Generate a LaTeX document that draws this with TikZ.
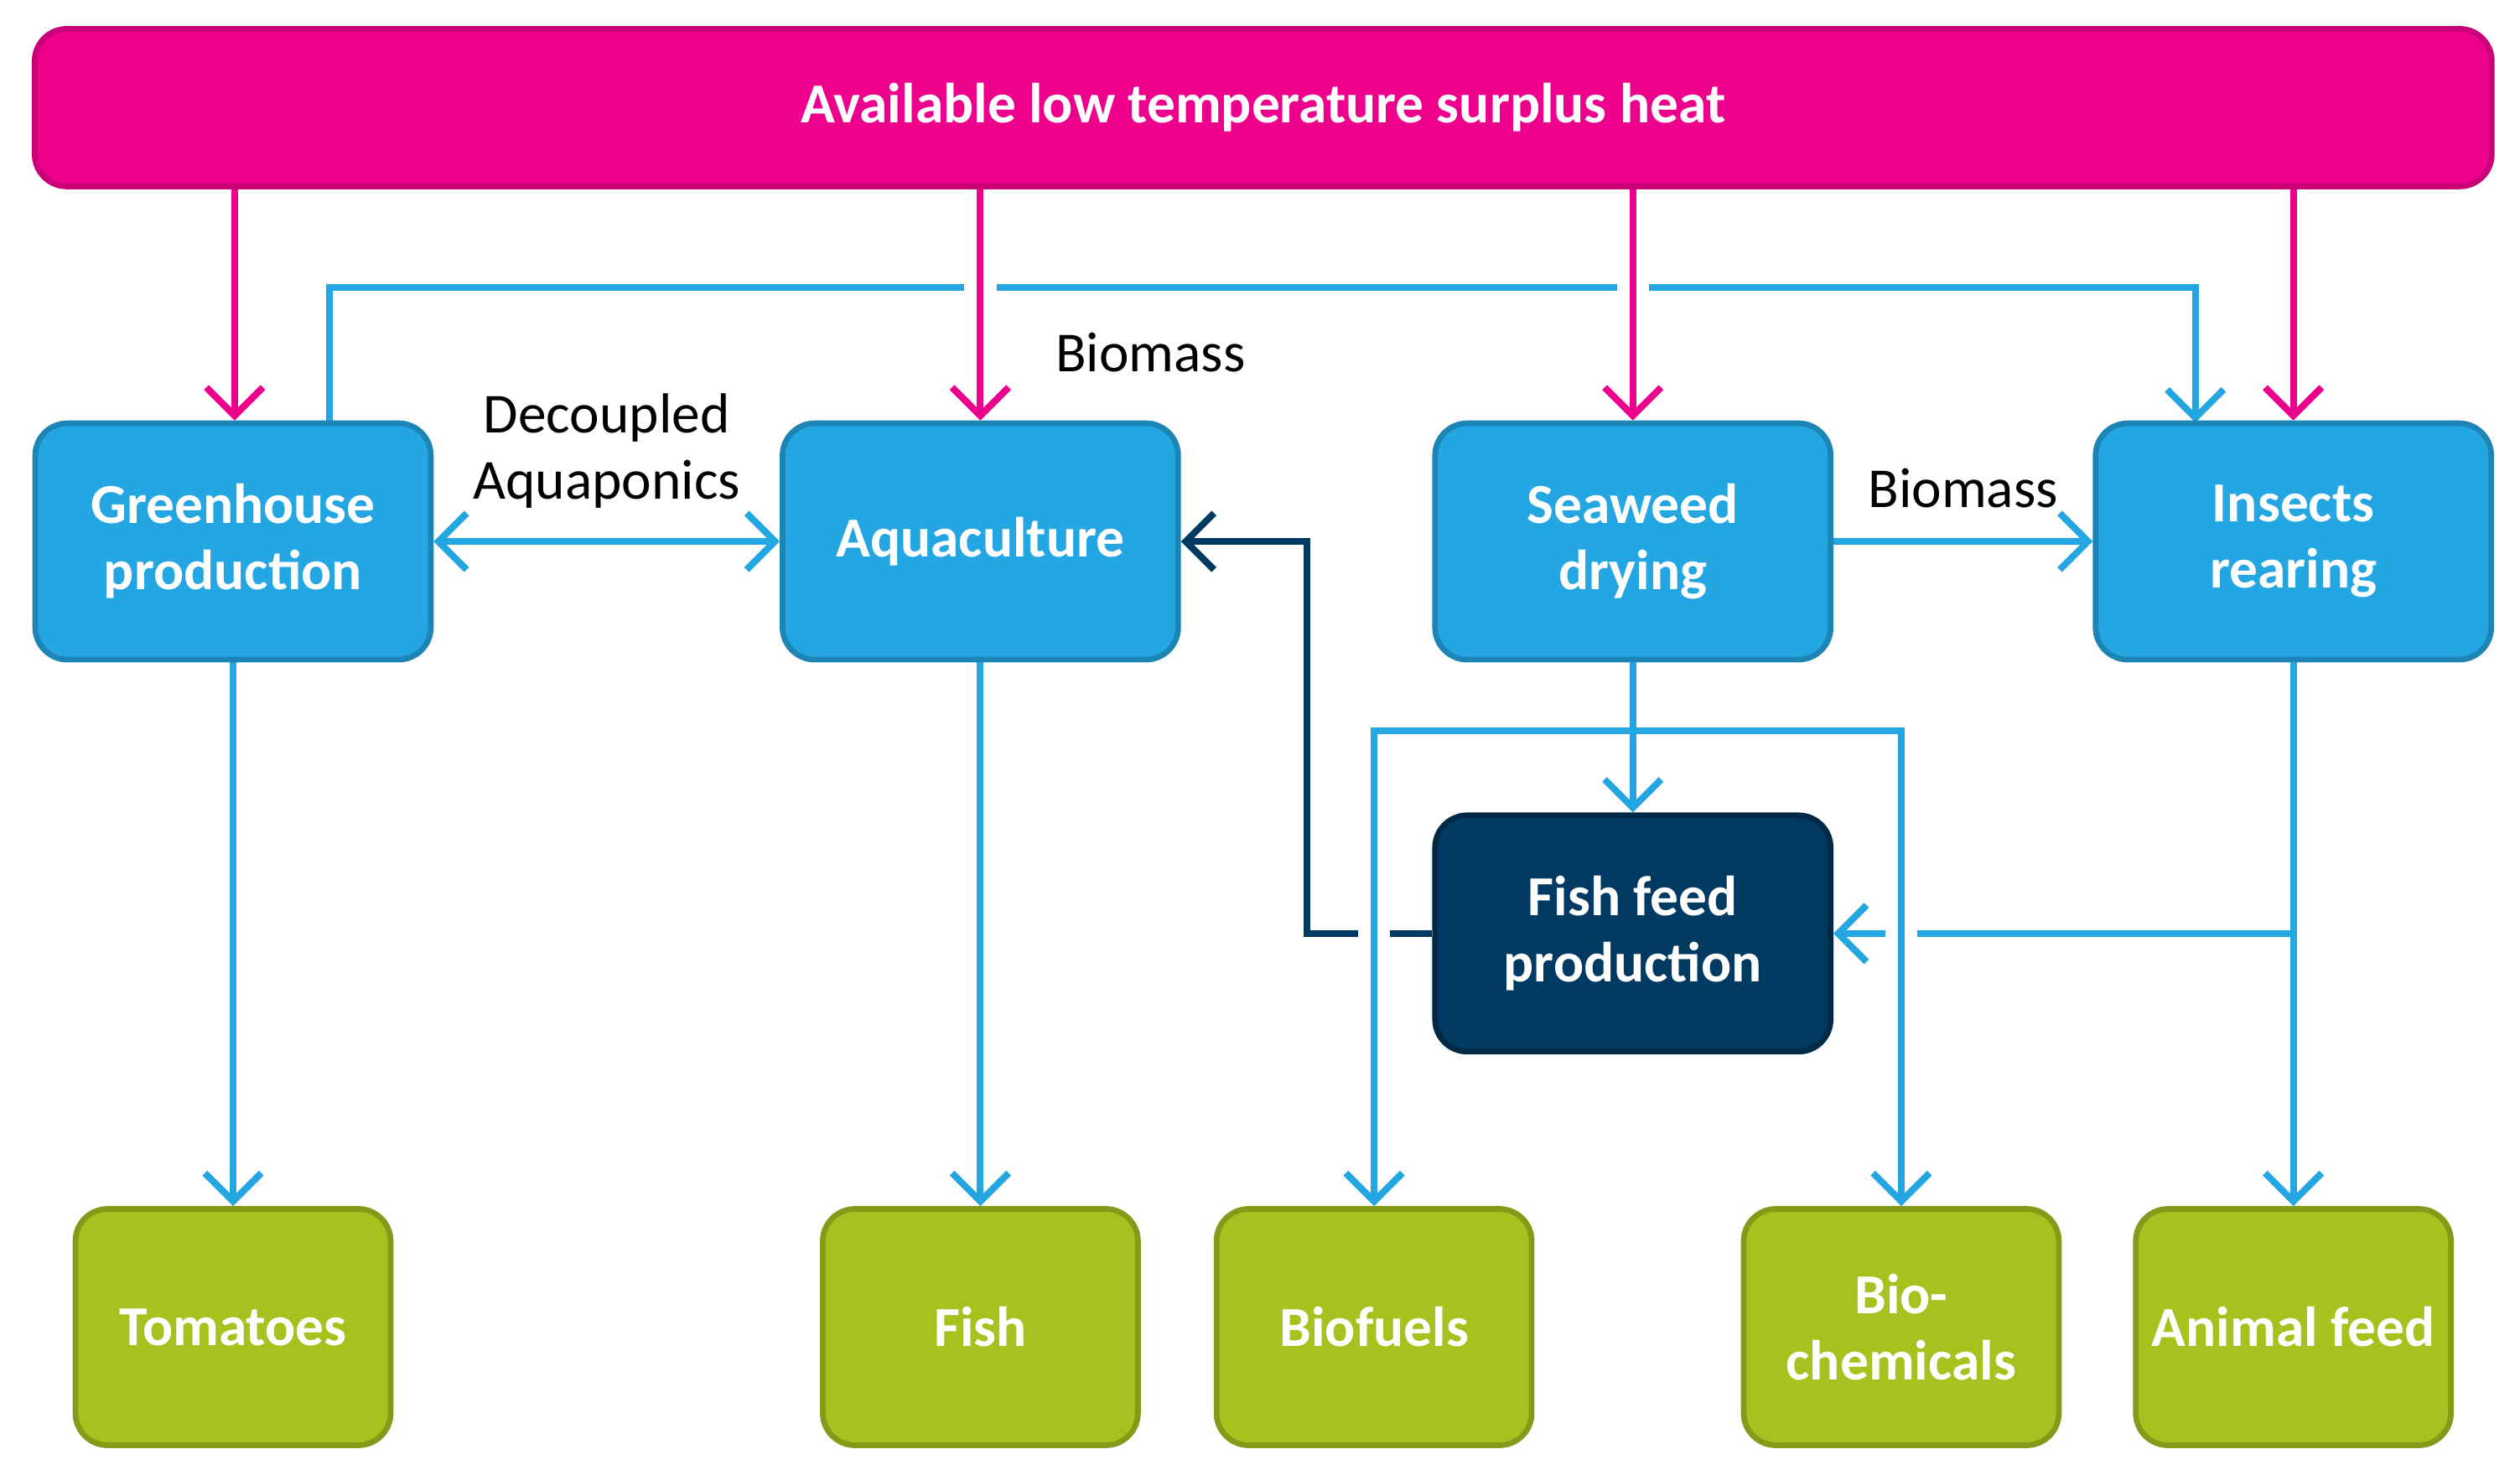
\documentclass[tikz,border=0pt]{standalone}
\usepackage{fontspec}
\setmainfont{Carlito}
\usetikzlibrary{arrows.meta}
\definecolor{heatpink}{HTML}{EC008C}
\definecolor{procblue}{HTML}{24A6E2}
\definecolor{navy}{HTML}{003A63}
\definecolor{leaf}{HTML}{A5C21F}
\pgfdeclarelayer{background}
\pgfsetlayers{background,main}
\tikzset{
  box/.style={draw, line width=1pt, rounded corners=0.2cm, text=white,
    font=\fontsize{10}{11.7}\selectfont\bfseries, align=center,
    minimum width=2.46cm, minimum height=1.47cm, inner sep=0pt},
  proc/.style={box, fill=procblue, draw=procblue!80!black},
  prod/.style={box, fill=leaf, draw=leaf!80!black, minimum width=1.96cm},
  flow/.style={draw=procblue, line width=1.2pt, -{Straight Barb[length=5pt,width=10pt,line width=1.2pt]}},
  heat/.style={flow, draw=heatpink},
  halo/.style={preaction={draw=white, line width=0.2cm, -}},
  lbl/.style={font=\fontsize{10}{11.7}\selectfont, align=center}
}
\begin{document}
\begin{tikzpicture}[x=0.01cm, y=-0.01cm]
\useasboundingbox (0,0) rectangle (1568,918);
% heat source
\node[box, fill=heatpink, draw=heatpink!85!black, minimum width=15.28cm, minimum height=0.98cm] (heat) at (786,67) {Available low temperature surplus heat};
% processes
\node[proc] (green) at (145,337) {Greenhouse\\production};
\node[proc] (aqua) at (610,337) {Aquaculture};
\node[proc] (sea) at (1016,337) {Seaweed\\drying};
\node[proc] (insect) at (1427,337) {Insects\\rearing};
\node[proc, fill=navy, draw=navy!70!black] (feed) at (1016,581) {Fish feed\\production};
% products
\node[prod] (tom) at (145,826) {Tomatoes};
\node[prod] (fish) at (610,826) {Fish};
\node[prod] (fuel) at (855,826) {Biofuels};
\node[prod] (chem) at (1183,826) {Bio-\\chemicals};
\node[prod] (afeed) at (1427,826) {Animal feed};
\coordinate (split) at (1016,455);
\coordinate (tee) at (1427,581);
\begin{pgfonlayer}{background}
% biomass loop on top
\draw[flow] (205,263) |- (1366,179) node[lbl, pos=0.72, below=4pt, text=black] {Biomass} -- (1366,263);
\foreach \x/\n in {146/green,610/aqua,1016/sea,1427/insect}
  \draw[heat, halo] (\x,116) -- (\n.north -| \x,0);
\draw[flow, {Straight Barb[length=5pt,width=10pt,line width=1.2pt]}-{Straight Barb[length=5pt,width=10pt,line width=1.2pt]}] (green) -- (aqua) node[lbl, midway, above=2pt, text=black] {Decoupled\\Aquaponics};
\draw[flow] (sea) -- (insect) node[lbl, midway, above=2pt, text=black] {Biomass};
\draw[flow, draw=navy] (feed.west) -- (813,581) |- (aqua.east);
\draw[flow] (insect) -- (afeed);
\draw[flow] (tee) -- (feed.east);
\draw[flow, halo] (split) -| (fuel.north);
\draw[flow, halo] (split) -| (chem.north);
\draw[flow] (sea) -- (feed);
\draw[flow] (green) -- (tom);
\draw[flow] (aqua) -- (fish);
\end{pgfonlayer}
\end{tikzpicture}
\end{document}
